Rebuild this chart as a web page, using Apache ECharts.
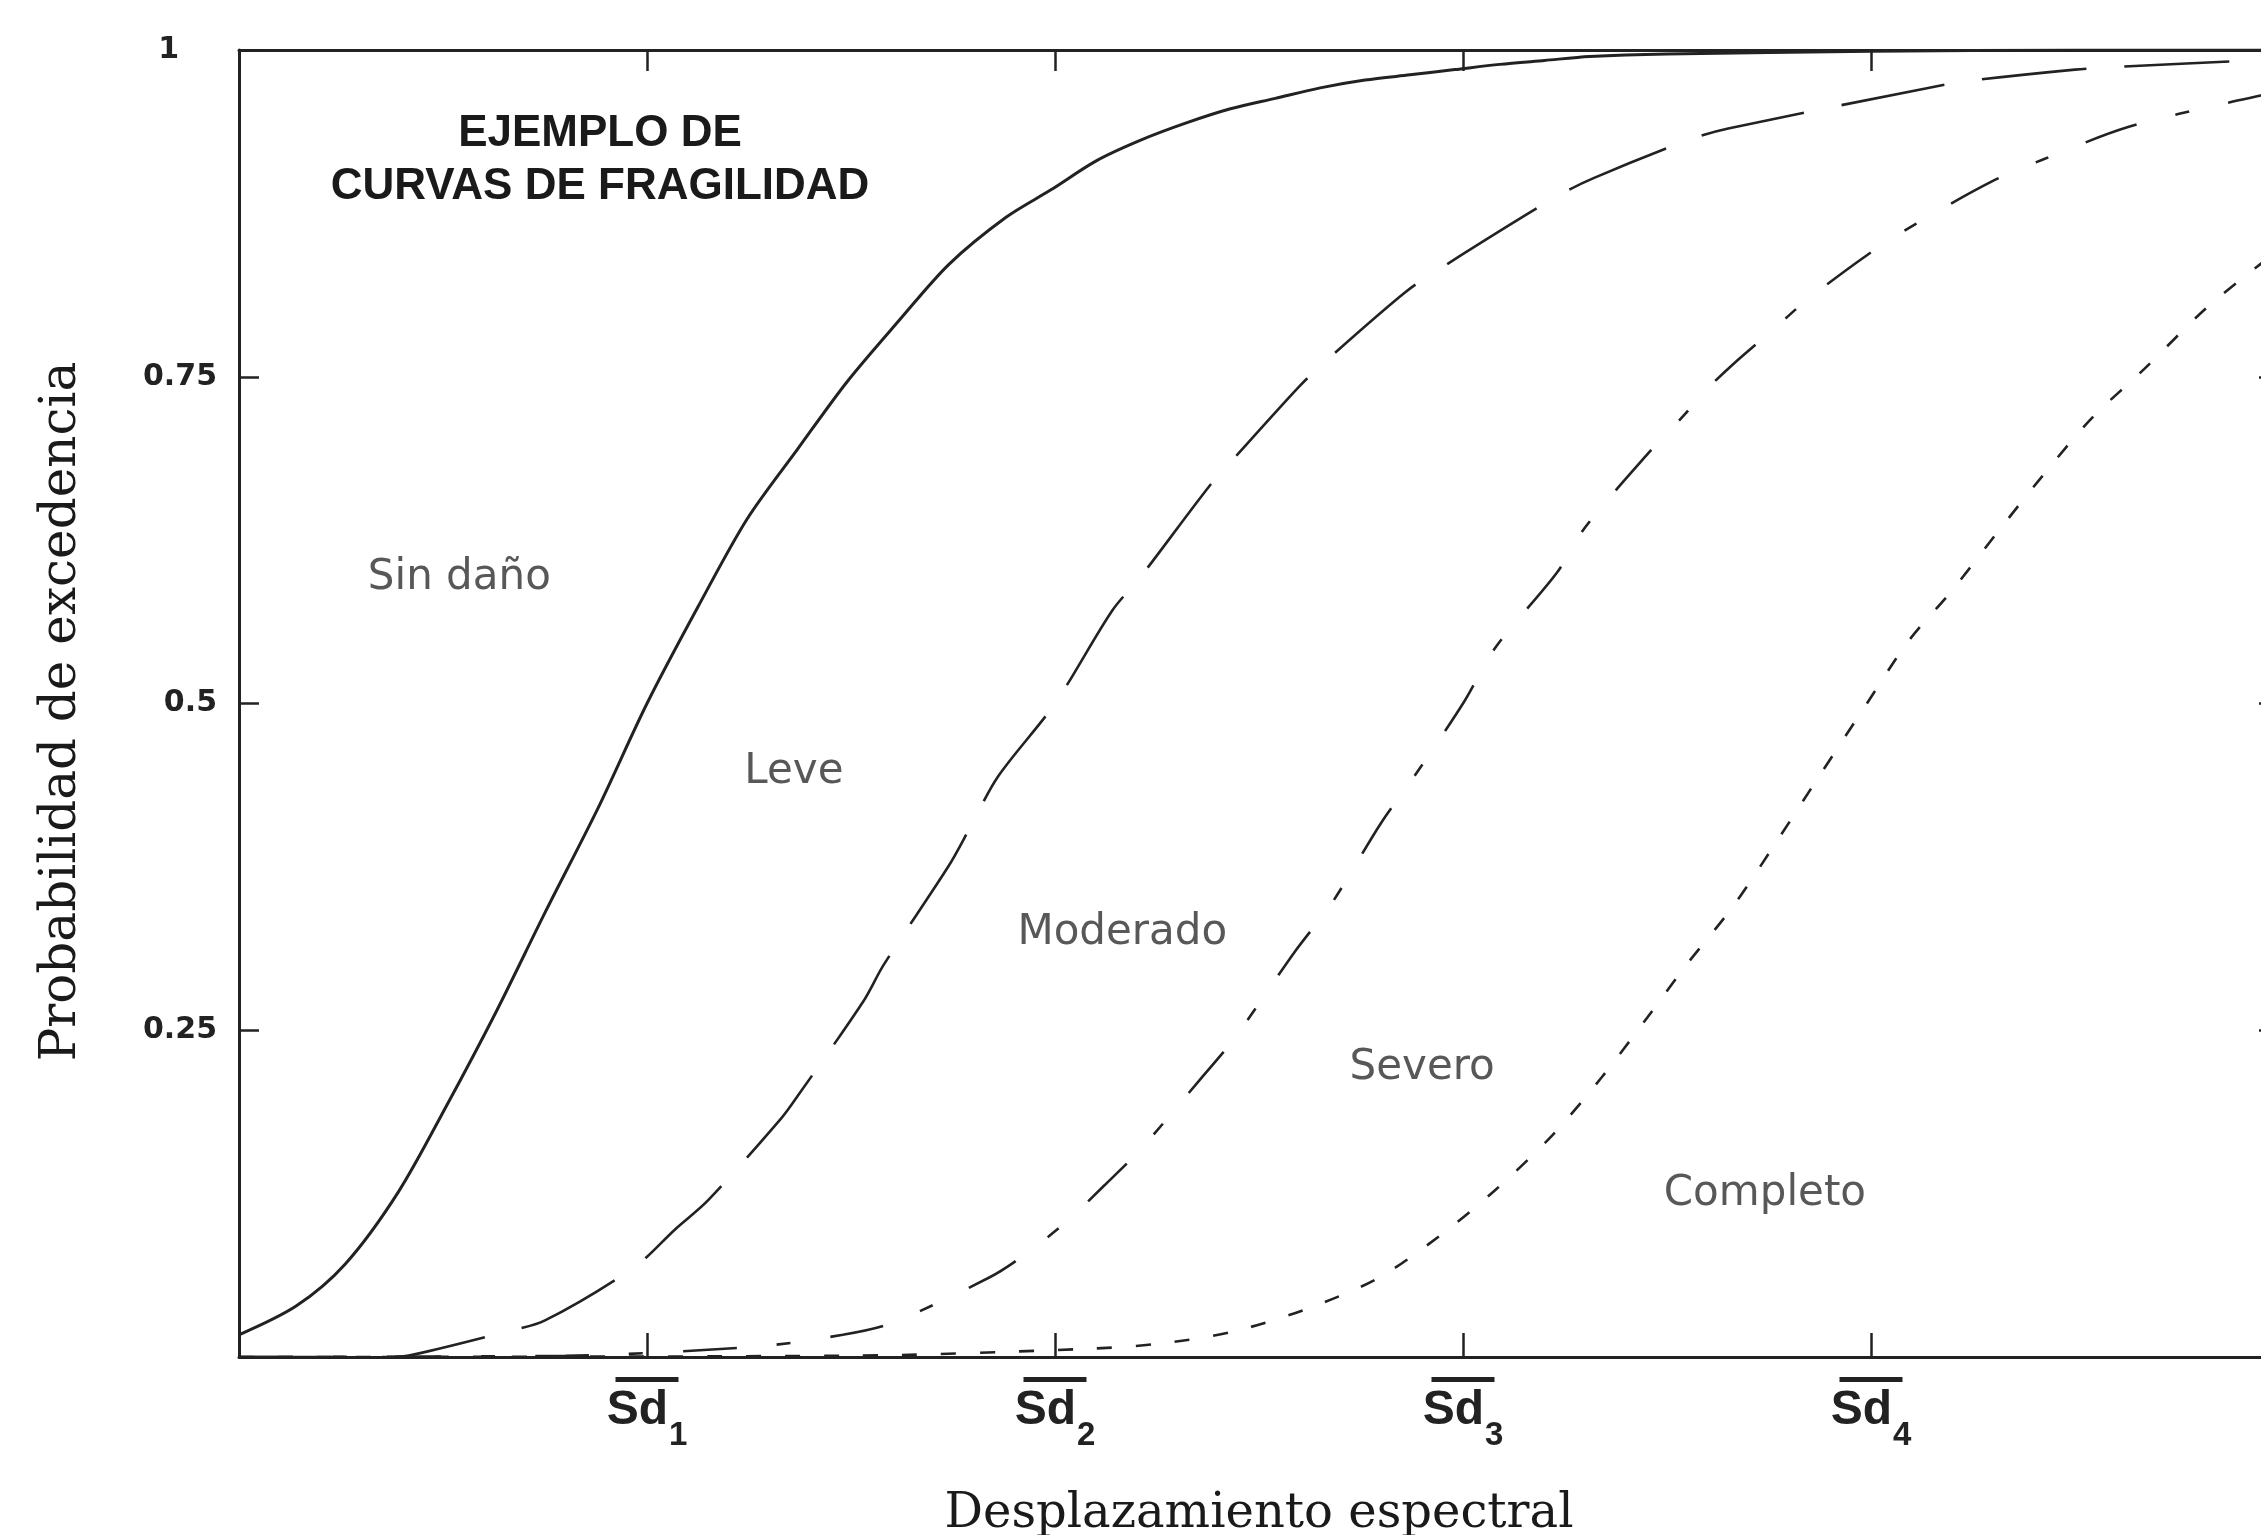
<!DOCTYPE html>
<html>
<head>
<meta charset="utf-8">
<script src="https://cdn.jsdelivr.net/npm/echarts@6/dist/echarts.min.js"></script>
<style>
  html, body { margin: 0; padding: 0; background: #ffffff; overflow: hidden; width: 2261px; height: 1535px; }
  #chart { width: 2290px; height: 1535px; }
</style>
</head>
<body>
<div id="chart"></div>
<script>
// Tick labels
const xTickSubscripts = ['1', '2', '3', '4'];          // Sd1 .. Sd4 at x = 1..4
const yTickLabels = ['0.25', '0.5', '0.75', '1'];      // at y = 0.25 .. 1

// Fragility curve: Leve (solid)
const leveX = [0, 0.14, 0.26, 0.39, 0.51, 0.63, 0.75, 0.88, 1.00, 1.125, 1.245, 1.37, 1.49, 1.615, 1.74, 1.88, 1.99, 2.10, 2.21, 2.32, 2.43, 2.54, 2.65, 2.76, 2.87, 2.98, 3.09, 3.20, 3.31, 3.5, 4.0, 4.5, 5.0];
const leveY = [0.017, 0.039, 0.071, 0.126, 0.193, 0.264, 0.340, 0.420, 0.500, 0.574, 0.641, 0.695, 0.746, 0.792, 0.836, 0.872, 0.893, 0.915, 0.931, 0.944, 0.955, 0.963, 0.971, 0.977, 0.981, 0.985, 0.989, 0.992, 0.995, 0.997, 0.999, 1.0, 1.0];

// Fragility curve: Moderado (long dashes)
const moderadoX = [0, 0.38, 0.43, 0.65, 0.75, 0.97, 1.07, 1.15, 1.33, 1.37, 1.53, 1.58, 1.74, 1.79, 1.86, 2.00, 2.14, 2.21, 2.38, 2.44, 2.60, 2.66, 2.86, 2.95, 3.23, 3.32, 3.56, 3.65, 4.14, 4.23, 4.50, 4.60, 5.0];
const moderadoY = [0, 0.0, 0.002, 0.019, 0.028, 0.069, 0.098, 0.120, 0.183, 0.200, 0.272, 0.300, 0.376, 0.404, 0.444, 0.500, 0.571, 0.597, 0.667, 0.688, 0.743, 0.761, 0.815, 0.834, 0.888, 0.902, 0.932, 0.940, 0.971, 0.976, 0.985, 0.987, 0.993];

// Fragility curve: Severo (dash-dot)
const severoX = [0, 0.8, 1.27, 1.48, 1.60, 1.84, 1.92, 2.03, 2.12, 2.21, 2.36, 2.44, 2.59, 2.68, 2.80, 2.88, 3.00, 3.08, 3.23, 3.30, 3.45, 3.54, 3.59, 3.66, 3.76, 3.84, 3.99, 4.11, 4.30, 4.42, 4.63, 4.88, 5.0];
const severoY = [0, 0.001, 0.008, 0.017, 0.026, 0.061, 0.077, 0.104, 0.131, 0.159, 0.214, 0.244, 0.311, 0.348, 0.409, 0.444, 0.500, 0.543, 0.600, 0.635, 0.690, 0.720, 0.738, 0.759, 0.786, 0.808, 0.843, 0.867, 0.900, 0.916, 0.941, 0.960, 0.968];

// Fragility curve: Completo (short dashes)
const completoX = [0, 1.5, 2.06, 2.25, 2.43, 2.61, 2.79, 2.94, 3.08, 3.22, 3.34, 3.45, 3.55, 3.66, 3.77, 3.87, 3.99, 4.09, 4.20, 4.31, 4.42, 4.54, 4.67, 4.82, 4.97, 5.0];
const completoY = [0, 0.001, 0.006, 0.010, 0.019, 0.036, 0.060, 0.092, 0.128, 0.170, 0.214, 0.259, 0.301, 0.344, 0.395, 0.443, 0.500, 0.547, 0.587, 0.631, 0.674, 0.718, 0.756, 0.802, 0.840, 0.846];

// Damage-state region labels
const regionNames = ['Sin daño', 'Leve', 'Moderado', 'Severo', 'Completo'];
const regionX = [0.54, 1.36, 2.165, 2.90, 3.74];
const regionY = [0.596, 0.4475, 0.324, 0.221, 0.125];

const ink = '#222222';
const pairs = (xs, ys) => xs.map((x, i) => [x, ys[i]]);

function curve(name, xs, ys, dash, width) {
  return {
    name: name,
    type: 'line',
    data: pairs(xs, ys),
    showSymbol: false,
    smooth: 0.3,
    clip: true,
    silent: true,
    lineStyle: { color: ink, width: width, type: dash, cap: 'butt' }
  };
}

const frameAxis = {
  axisLine: { show: true, onZero: false, lineStyle: { color: ink, width: 3 } },
  splitLine: { show: false }
};

const chart = echarts.init(document.getElementById('chart'), null, { renderer: 'canvas' });

chart.setOption({
  animation: false,
  backgroundColor: '#ffffff',
  grid: { left: 239, right: 11, top: 50, bottom: 178, containLabel: false, outerBoundsMode: 'none' },
  xAxis: [
    Object.assign({}, frameAxis, {
      type: 'value', position: 'bottom', min: 0, max: 5, interval: 1,
      axisTick: { show: true, inside: true, length: 24, lineStyle: { color: ink, width: 2.5 } },
      axisLabel: {
        show: true, margin: 20,
        formatter: v => (v >= 1 && v <= 4) ? '{bar| }\n{sd|Sd}{sub|' + xTickSubscripts[v - 1] + '}' : '',
        rich: {
          bar: { width: 63, height: 5, lineHeight: 5, backgroundColor: ink, fontSize: 4 },
          sd: { fontFamily: '"Liberation Sans", Arial, sans-serif', fontWeight: 'bold', fontSize: 48, color: ink, verticalAlign: 'top', padding: [5, 0, 0, 0] },
          sub: { fontFamily: '"Liberation Sans", Arial, sans-serif', fontWeight: 'bold', fontSize: 33, color: ink, verticalAlign: 'top', padding: [37, 0, 0, 1] }
        }
      },
      name: 'Desplazamiento espectral', nameLocation: 'middle', nameGap: 134,
      nameTextStyle: { fontFamily: '"DejaVu Serif", serif', fontSize: 48, color: '#1a1a1a' }
    }),
    Object.assign({}, frameAxis, {
      type: 'value', position: 'top', min: 0, max: 5, interval: 1,
      axisTick: { show: true, inside: true, length: 21, lineStyle: { color: ink, width: 2.5 } },
      axisLabel: { show: false }
    })
  ],
  yAxis: [
    Object.assign({}, frameAxis, {
      type: 'value', position: 'left', min: 0, max: 1, interval: 0.25,
      axisTick: { show: true, inside: true, length: 20, lineStyle: { color: ink, width: 2.5 } },
      axisLabel: {
        show: true, margin: 22,
        formatter: v => {
          if (v <= 0) return '';
          const label = yTickLabels[Math.round(v / 0.25) - 1];
          return v >= 1 ? '{one|' + label + '}' : '{n|' + label + '}';
        },
        rich: {
          n: { fontFamily: '"DejaVu Sans", sans-serif', fontWeight: 'bold', fontSize: 30, color: ink },
          one: { fontFamily: '"DejaVu Sans", sans-serif', fontWeight: 'bold', fontSize: 30, color: ink, padding: [0, 38, 0, 0] }
        }
      },
      name: 'Probabilidad de excedencia', nameLocation: 'middle', nameGap: 152, nameRotate: 90,
      nameTextStyle: { fontFamily: '"DejaVu Serif", serif', fontSize: 50, color: '#1a1a1a', padding: [0, 16, 0, 0] }
    }),
    Object.assign({}, frameAxis, {
      type: 'value', position: 'right', min: 0, max: 1, interval: 0.25,
      axisTick: { show: true, inside: true, length: 20, lineStyle: { color: ink, width: 2.5 } },
      axisLabel: { show: false }
    })
  ],
  graphic: [{
    type: 'text', x: 600, y: 160, silent: true,
    style: {
      text: 'EJEMPLO DE\nCURVAS DE FRAGILIDAD',
      font: 'bold 44px "Liberation Sans", Arial, sans-serif',
      fill: '#1a1a1a',
      align: 'center', textAlign: 'center',
      verticalAlign: 'middle', textVerticalAlign: 'middle',
      lineHeight: 53
    }
  }],
  series: [
    curve('Leve', leveX, leveY, 'solid', 3),
    curve('Moderado', moderadoX, moderadoY, [105, 38], 2.6),
    curve('Severo', severoX, severoY, [54, 40, 14, 40], 2.6),
    curve('Completo', completoX, completoY, [15, 24], 2.6),
    {
      type: 'scatter',
      silent: true,
      symbolSize: 1,
      itemStyle: { color: 'transparent' },
      data: regionNames.map((n, i) => ({ name: n, value: [regionX[i], regionY[i]] })),
      label: {
        show: true, position: 'inside', formatter: '{b}',
        fontFamily: '"DejaVu Sans", sans-serif', fontSize: 42, color: '#2e2e2e'
      }
    }
  ]
});
</script>
</body>
</html>
